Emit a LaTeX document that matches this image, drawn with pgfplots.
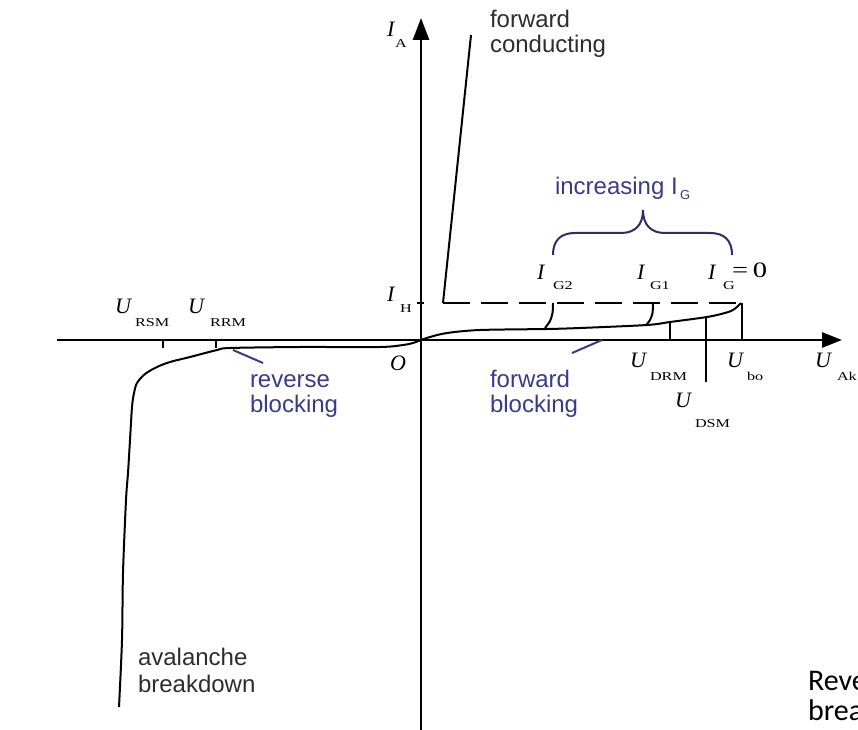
\documentclass[border=0pt]{standalone}
\usepackage{pgfplots}
\pgfplotsset{compat=1.18}
\usetikzlibrary{arrows.meta}
\usepackage{fontspec}
\setmainfont{Liberation Sans}
\newfontfamily\tms{Liberation Serif}
\newfontfamily\clb{Carlito}
\definecolor{lbl}{RGB}{45,45,45}
\definecolor{blu}{RGB}{58,58,138}
\definecolor{brc}{RGB}{45,45,105}
% symbol fonts
\newcommand{\sv}{\tms\fontsize{22}{22}\selectfont\itshape}
\newcommand{\sbs}[1]{{\tms\fontsize{12}{12}\selectfont\scalebox{1.35}[1]{#1}}}
\newcommand{\tx}{\fontsize{24}{25}\selectfont}
\tikzset{lb/.style={inner sep=0pt, outer sep=0pt, anchor=base west}}

\begin{document}
\begin{tikzpicture}
\path[use as bounding box] (0,0) rectangle (858pt,729pt);
\begin{axis}[
  at={(0,0)}, anchor=south west,
  scale only axis, width=858pt, height=729pt,
  xmin=-421, xmax=437, ymin=-389, ymax=340,
  hide axis, clip=true,
]
% coordinate axes
\addplot[line width=2.6pt, -{Triangle[length=20pt,width=15pt]}] coordinates {(-364,0) (421,0)};
\addplot[line width=2.6pt, -{Triangle[length=22pt,width=16pt]}] coordinates {(0,-395) (0,322)};

% reverse branch with avalanche breakdown, then forward blocking branch
\addplot[line width=2pt, smooth, tension=0.5] coordinates {
 (-302,-367) (-299,-300) (-298,-233) (-295,-160) (-293,-133) (-291,-100)
 (-289,-67) (-287,-53) (-284,-43) (-276,-34) (-264,-27) (-251,-22)
 (-231,-17) (-204,-10) (-191,-8) (-121,-7) (-41,-7) (-18,-5) (-8,-3)
 (0,0) (9,3) (26,7) (59,10) (126,11) (159,12) (226,15) (249,18)
 (286,23) (304,27) (312,30) (317,34) (320,37)};

% forward conducting state and holding current level
\addplot[line width=2pt] coordinates {(22,37) (50,305)};
\addplot[line width=2.4pt, dash pattern=on 27pt off 11pt] coordinates {(22,37) (320,37)};
\addplot[line width=1.5pt] coordinates {(-4,37) (3,37)};

% break-over branches for gate currents
\addplot[line width=2pt, smooth] coordinates {(132,37) (131.5,27) (129,19) (124,12)};
\addplot[line width=2pt, smooth] coordinates {(232,37) (231.5,27) (229,20) (225,15)};

% voltage markers
\addplot[line width=2pt] coordinates {(249,18) (249,0)};
\addplot[line width=2pt] coordinates {(321,37) (321,0)};
\addplot[line width=2pt] coordinates {(285,23) (285,-42)};
\addplot[line width=1.8pt] coordinates {(-258,0) (-258,-8)};
\addplot[line width=1.8pt] coordinates {(-205,0) (-205,-8)};

% pointers to the blocking regions
\addplot[line width=2pt, blu] coordinates {(-188,-10) (-158,-23)};
\addplot[line width=2pt, blu] coordinates {(151,-13) (181,0)};

% brace over the gate-current curves
\draw[line width=2pt, brc] (axis cs:132,85) .. controls (axis cs:132,100) and (axis cs:140,107) .. (axis cs:154,107)
  -- (axis cs:200,107) .. controls (axis cs:214,107) and (axis cs:222,115) .. (axis cs:222,130)
  .. controls (axis cs:222,115) and (axis cs:230,107) .. (axis cs:244,107)
  -- (axis cs:289,107) .. controls (axis cs:303,107) and (axis cs:311,100) .. (axis cs:311,85);

% text labels
\node[lb, lbl] at (axis cs:69,312) {\tx forward};
\node[lb, lbl] at (axis cs:69,287) {\tx conducting};
\node[lb, blu] at (axis cs:134,145) {\tx increasing I};
\node[lb, blu] at (axis cs:259,140) {\fontsize{13}{13}\selectfont G};
\node[lb, blu] at (axis cs:-171,-47) {\tx reverse};
\node[lb, blu] at (axis cs:-171,-72) {\tx blocking};
\node[lb, blu] at (axis cs:69,-47) {\tx forward};
\node[lb, blu] at (axis cs:69,-72) {\tx blocking};
\node[lb, lbl] at (axis cs:-283,-325) {\tx avalanche};
\node[lb, lbl] at (axis cs:-283,-352) {\tx breakdown};
\node[lb, black] at (axis cs:387,-350) {\clb\fontsize{30}{30}\selectfont Reverse};
\node[lb, black] at (axis cs:387,-380) {\clb\fontsize{30}{30}\selectfont breakdown};

% symbols
\node[lb] at (axis cs:-34,303) {\sv I};
\node[lb] at (axis cs:-26,292) {\sbs{A}};
\node[lb] at (axis cs:-34,38) {\sv I};
\node[lb] at (axis cs:-21,28) {\sbs{H}};
\node[lb] at (axis cs:-31,-30) {\sv O};
\node[lb] at (axis cs:-306,27) {\sv U};
\node[lb] at (axis cs:-286,14) {\sbs{RSM}};
\node[lb] at (axis cs:-233,27) {\sv U};
\node[lb] at (axis cs:-211,14) {\sbs{RRM}};
\node[lb] at (axis cs:116,60) {\sv I};
\node[lb] at (axis cs:132,50) {\sbs{G2}};
\node[lb] at (axis cs:216,60) {\sv I};
\node[lb] at (axis cs:229,50) {\sbs{G1}};
\node[lb] at (axis cs:287,60) {\sv I};
\node[lb] at (axis cs:302,50) {\sbs{G}};
\node[lb] at (axis cs:311,62) {\tms\fontsize{22}{22}\selectfont\scalebox{1.3}[1]{=\,0}};
\node[lb] at (axis cs:209,-27) {\sv U};
\node[lb] at (axis cs:229,-40) {\sbs{DRM}};
\node[lb] at (axis cs:306,-27) {\sv U};
\node[lb] at (axis cs:326,-40) {\sbs{bo}};
\node[lb] at (axis cs:394,-27) {\sv U};
\node[lb] at (axis cs:416,-40) {\sbs{Ak}};
\node[lb] at (axis cs:254,-67) {\sv U};
\node[lb] at (axis cs:274,-87) {\sbs{DSM}};
\end{axis}
\end{tikzpicture}
\end{document}
